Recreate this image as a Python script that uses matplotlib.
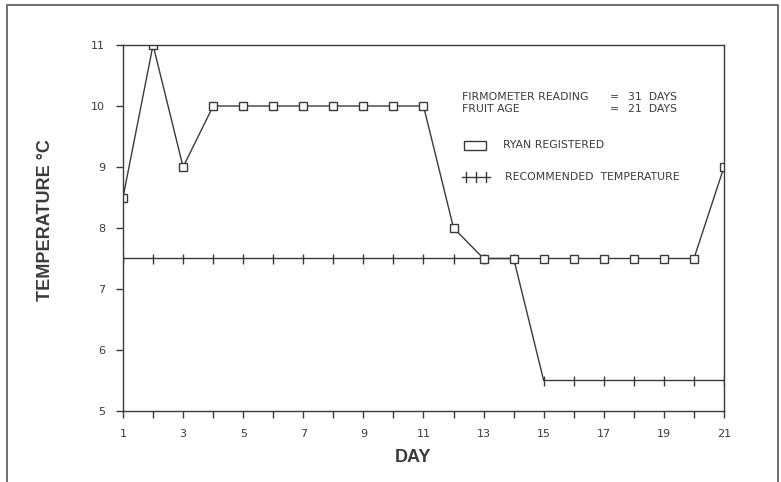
import matplotlib
matplotlib.use("Agg")
import matplotlib.pyplot as plt
from matplotlib.patches import Rectangle
from matplotlib.lines import Line2D

days = list(range(1, 22))
ryan_registered = [8.5, 11, 9, 10, 10, 10, 10, 10, 10, 10, 10, 8, 7.5, 7.5, 7.5, 7.5, 7.5, 7.5, 7.5, 7.5, 9]
recommended = [7.5] * 14 + [5.5] * 7
xticks = [1, 3, 5, 7, 9, 11, 13, 15, 17, 19, 21]
yticks = [5, 6, 7, 8, 9, 10, 11]

ink = "#3a3a3a"
W, H = 781, 482
fig = plt.figure(figsize=(W / 100, H / 100), dpi=100)
ax = fig.add_axes([123 / W, 1 - 411 / H, (724 - 123) / W, (411 - 45) / H])

ax.plot(days, recommended, color=ink, lw=1.0, marker="|", ms=7, mew=1.0)
ax.plot(days, ryan_registered, color=ink, lw=1.0, marker="s", ms=6,
        mfc="white", mec=ink, mew=1.0)

ax.set_xlim(1, 21)
ax.set_ylim(5, 11)
ax.set_xticks(range(1, 22))
ax.set_xticklabels([str(d) if d in xticks else "" for d in range(1, 22)])
ax.set_yticks(yticks)
ax.set_yticklabels([str(v) for v in yticks])
ax.tick_params(axis="both", direction="out", length=5, width=1.0, color=ink,
               labelsize=8, labelcolor=ink)
ax.tick_params(axis="x", pad=8)
ax.tick_params(axis="y", pad=8)
for s in ax.spines.values():
    s.set_color(ink)
    s.set_linewidth(1.0)

fig.text(413 / W, 1 - 458 / H, "DAY", fontsize=13, fontweight="bold", color=ink,
         family="Liberation Sans", ha="center", va="center")
fig.text(46 / W, 1 - 220 / H, "TEMPERATURE °C", fontsize=13, fontweight="bold", color=ink,
         family="Liberation Sans", ha="center", va="center", rotation=90)

# annotation text
fs = 7.8
fig.text(462 / W, 1 - 97 / H, "FIRMOMETER READING", fontsize=fs, color=ink, va="center")
fig.text(462 / W, 1 - 109 / H, "FRUIT AGE", fontsize=fs, color=ink, va="center")
fig.text(610 / W, 1 - 97 / H, "=", fontsize=fs, color=ink, va="center")
fig.text(610 / W, 1 - 109 / H, "=", fontsize=fs, color=ink, va="center")
fig.text(628 / W, 1 - 97 / H, "31  DAYS", fontsize=fs, color=ink, va="center")
fig.text(628 / W, 1 - 109 / H, "21  DAYS", fontsize=fs, color=ink, va="center")

# legend entries
fig.add_artist(Rectangle((464 / W, 1 - 150 / H), 22 / W, 9 / H, transform=fig.transFigure,
                         fill=False, edgecolor=ink, lw=1.0))
fig.text(503 / W, 1 - 145 / H, "RYAN REGISTERED", fontsize=fs, color=ink, va="center")
fig.add_artist(Line2D([462 / W, 490 / W], [1 - 177 / H, 1 - 177 / H], transform=fig.transFigure,
                      color=ink, lw=1.0))
for px in (466, 476, 486):
    fig.add_artist(Line2D([px / W, px / W], [1 - 172 / H, 1 - 182 / H], transform=fig.transFigure,
                          color=ink, lw=1.0))
fig.text(505 / W, 1 - 177 / H, "RECOMMENDED  TEMPERATURE", fontsize=fs, color=ink, va="center")

# outer frame
fig.add_artist(Line2D([7 / W, 7 / W, 778 / W, 778 / W], [0, 1 - 5 / H, 1 - 5 / H, 0],
                      transform=fig.transFigure, color="#555555", lw=1.2))

fig.savefig("out.png", dpi=100)
